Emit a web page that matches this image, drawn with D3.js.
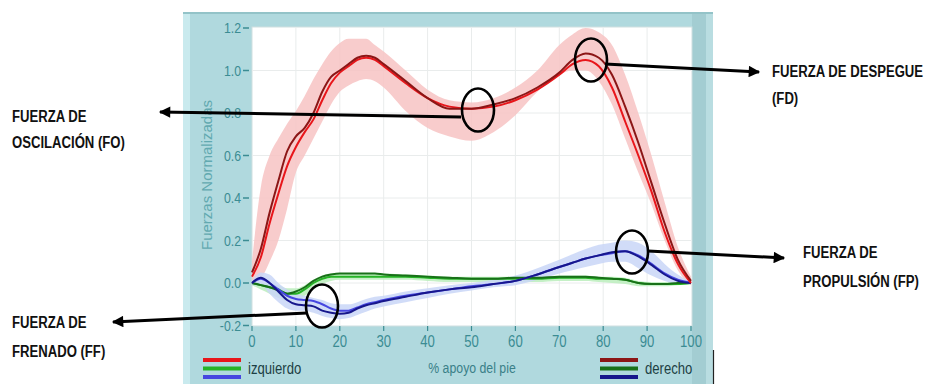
<!DOCTYPE html>
<html>
<head>
<meta charset="utf-8">
<script src="https://cdn.jsdelivr.net/npm/d3@7"></script>
<style>
body { margin: 0; background: #fff; }
text { font-family: 'Liberation Sans', Arial, sans-serif; }
</style>
</head>
<body>
<div id="chart"></div>
<script>
// % apoyo del pie
var pct = [0, 2, 4, 6, 8, 10, 12, 14, 16, 18, 20, 22, 24, 26, 28, 30, 35, 40, 45, 50, 55, 60, 65, 70, 73, 76, 79, 82, 85, 88, 91, 94, 97, 100];

var redIzq = [0.03, 0.12, 0.28, 0.42, 0.55, 0.64, 0.71, 0.77, 0.86, 0.94, 0.99, 1.02, 1.05, 1.06, 1.05, 1.02, 0.94, 0.87, 0.83, 0.82, 0.83, 0.86, 0.91, 0.98, 1.03, 1.05, 1.02, 0.92, 0.76, 0.60, 0.43, 0.24, 0.09, 0.0];
var redDer = [0.05, 0.16, 0.33, 0.48, 0.62, 0.69, 0.73, 0.80, 0.90, 0.97, 1.00, 1.03, 1.06, 1.07, 1.06, 1.03, 0.95, 0.87, 0.82, 0.82, 0.84, 0.87, 0.92, 0.99, 1.05, 1.08, 1.06, 0.98, 0.83, 0.66, 0.47, 0.28, 0.11, 0.01];
var redHi = [0.10, 0.45, 0.60, 0.68, 0.75, 0.81, 0.88, 0.96, 1.03, 1.09, 1.13, 1.15, 1.15, 1.15, 1.12, 1.09, 1.00, 0.91, 0.86, 0.85, 0.87, 0.92, 1.00, 1.12, 1.17, 1.20, 1.18, 1.12, 0.98, 0.80, 0.60, 0.38, 0.17, 0.03];
var redLo = [0.0, 0.02, 0.10, 0.20, 0.35, 0.52, 0.60, 0.68, 0.76, 0.84, 0.90, 0.93, 0.95, 0.96, 0.95, 0.92, 0.81, 0.73, 0.69, 0.67, 0.71, 0.79, 0.90, 0.98, 1.00, 1.00, 0.95, 0.84, 0.68, 0.52, 0.37, 0.20, 0.06, -0.01];

var greenIzq = [0, -0.01, -0.02, -0.03, -0.05, -0.05, -0.03, 0.0, 0.02, 0.03, 0.03, 0.03, 0.03, 0.03, 0.03, 0.03, 0.03, 0.025, 0.02, 0.02, 0.02, 0.02, 0.02, 0.025, 0.025, 0.025, 0.02, 0.02, 0.015, 0.0, -0.005, -0.005, -0.005, 0.0];
var greenDer = [0, -0.01, -0.02, -0.035, -0.05, -0.04, -0.02, 0.01, 0.03, 0.04, 0.045, 0.045, 0.045, 0.045, 0.045, 0.04, 0.035, 0.03, 0.025, 0.02, 0.02, 0.025, 0.025, 0.03, 0.03, 0.03, 0.025, 0.02, 0.015, 0.0, -0.005, -0.005, 0.0, 0.0];
var greenHi = [0.01, 0.0, -0.005, -0.01, -0.025, -0.025, -0.01, 0.015, 0.035, 0.045, 0.045, 0.045, 0.045, 0.045, 0.045, 0.045, 0.04, 0.035, 0.03, 0.03, 0.03, 0.03, 0.03, 0.035, 0.035, 0.035, 0.03, 0.03, 0.025, 0.01, 0.005, 0.005, 0.005, 0.005];
var greenLo = [-0.01, -0.03, -0.05, -0.07, -0.085, -0.08, -0.06, -0.03, -0.005, 0.01, 0.015, 0.015, 0.015, 0.015, 0.015, 0.015, 0.015, 0.01, 0.005, 0.005, 0.005, 0.005, 0.005, 0.01, 0.01, 0.01, 0.005, 0.0, -0.005, -0.015, -0.015, -0.015, -0.01, -0.005];

var blueIzq = [0, 0.02, 0.0, -0.03, -0.06, -0.075, -0.08, -0.085, -0.10, -0.12, -0.13, -0.13, -0.115, -0.10, -0.09, -0.08, -0.06, -0.045, -0.03, -0.015, -0.005, 0.01, 0.04, 0.075, 0.095, 0.115, 0.13, 0.14, 0.15, 0.13, 0.09, 0.045, 0.015, 0.0];
var blueDer = [0, 0.025, 0.0, -0.04, -0.08, -0.10, -0.105, -0.11, -0.13, -0.14, -0.145, -0.14, -0.12, -0.105, -0.095, -0.085, -0.065, -0.045, -0.03, -0.02, -0.005, 0.01, 0.04, 0.075, 0.095, 0.115, 0.13, 0.145, 0.15, 0.125, 0.085, 0.04, 0.01, 0.0];
var blueHi = [0.01, 0.05, 0.04, 0.0, -0.03, -0.05, -0.06, -0.07, -0.08, -0.095, -0.10, -0.10, -0.09, -0.075, -0.065, -0.06, -0.04, -0.025, -0.01, 0.0, 0.015, 0.035, 0.07, 0.11, 0.135, 0.16, 0.18, 0.19, 0.20, 0.19, 0.15, 0.09, 0.04, 0.005];
var blueLo = [-0.01, -0.01, -0.05, -0.09, -0.12, -0.13, -0.13, -0.14, -0.155, -0.165, -0.17, -0.165, -0.15, -0.135, -0.12, -0.11, -0.09, -0.07, -0.05, -0.035, -0.02, -0.01, 0.015, 0.045, 0.06, 0.075, 0.09, 0.10, 0.10, 0.07, 0.035, 0.01, -0.005, -0.005];

var xTicks = [0, 10, 20, 30, 40, 50, 60, 70, 80, 90, 100];
var yTicks = [-0.2, 0.0, 0.2, 0.4, 0.6, 0.8, 1.0, 1.2];

var width = 929, height = 384;
var narrow = 'scale(0.82,1)';
var svg = d3.select('#chart').append('svg')
        .attr('width', width)
        .attr('height', height);
svg.append('rect').attr('width', width).attr('height', height).style('fill', '#fff');

var x = d3.scaleLinear().domain([0, 100]).range([252, 691]);
var y = d3.scaleLinear().domain([-0.2, 1.2]).range([325.5, 28]);

// panel frame
var panel = svg.append('g');
panel.append('rect').attr('x', 183).attr('y', 12).attr('width', 530).attr('height', 372).style('fill', '#b0d9de');
panel.append('rect').attr('x', 183).attr('y', 12).attr('width', 7).attr('height', 372).style('fill', '#c9eaee');
panel.append('rect').attr('x', 183).attr('y', 12).attr('width', 530).attr('height', 2).style('fill', '#93c3c8');
panel.append('rect').attr('x', 692).attr('y', 14).attr('width', 21).attr('height', 370).style('fill', '#a3cdd2');
panel.append('rect').attr('x', 706).attr('y', 14).attr('width', 7).attr('height', 370).style('fill', '#b9dde1');
panel.append('rect').attr('x', 252).attr('y', 27).attr('width', 440).attr('height', 299).style('fill', '#fff').style('stroke', '#cfdfe0');
svg.append('line').attr('x1', 713.5).attr('x2', 713.5).attr('y1', 350).attr('y2', 384).style('stroke', '#222').style('stroke-width', 1.2);

// grid
var grid = svg.append('g');
grid.selectAll('.gx').data(xTicks.slice(1, -1)).enter().append('line')
        .attr('x1', function (d) { return x(d); }).attr('x2', function (d) { return x(d); })
        .attr('y1', 27).attr('y2', 325)
        .style('stroke', '#e9ecec').style('stroke-width', 1);
grid.selectAll('.gy').data(yTicks.slice(1, -1)).enter().append('line')
        .attr('x1', 252).attr('x2', 691)
        .attr('y1', function (d) { return y(d); }).attr('y2', function (d) { return y(d); })
        .style('stroke', '#e9ecec').style('stroke-width', 1);

// bands and lines
function band(hi, lo) {
    return d3.area().curve(d3.curveMonotoneX)
            .x(function (d, i) { return x(pct[i]); })
            .y0(function (d, i) { return y(lo[i]); })
            .y1(function (d, i) { return y(hi[i]); })(pct);
}
var line = d3.line().curve(d3.curveMonotoneX)
        .x(function (d, i) { return x(pct[i]); })
        .y(function (d) { return y(d); });

var plot = svg.append('g');
plot.append('path').attr('d', band(redHi, redLo)).style('fill', '#f7c3c3').style('opacity', 0.85);
plot.append('path').attr('d', band(greenHi, greenLo)).style('fill', '#bfeec0').style('opacity', 0.9);
plot.append('path').attr('d', band(blueHi, blueLo)).style('fill', '#c9d6f7').style('opacity', 0.85);

var series = [
    {v: greenIzq, c: '#26b326'},
    {v: greenDer, c: '#187018'},
    {v: blueIzq, c: '#4646e0'},
    {v: blueDer, c: '#17178c'},
    {v: redIzq, c: '#e8161b'},
    {v: redDer, c: '#8c1616'}
];
plot.selectAll('.s').data(series).enter().append('path')
        .attr('d', function (d) { return line(d.v); })
        .style('fill', 'none')
        .style('stroke', function (d) { return d.c; })
        .style('stroke-width', 2);

// axes
var tickColor = '#3b8c93';
var yAxis = svg.append('g');
yAxis.selectAll('text').data(yTicks).enter().append('text')
        .attr('transform', function (d) { return 'translate(241,' + (y(d) + 5) + ')' + narrow; })
        .attr('text-anchor', 'end')
        .style('font-size', '15px')
        .style('fill', tickColor)
        .text(function (d) { return d.toFixed(1); });
yAxis.selectAll('line').data(yTicks).enter().append('line')
        .attr('x1', 243).attr('x2', 249)
        .attr('y1', function (d) { return y(d); }).attr('y2', function (d) { return y(d); })
        .style('stroke', tickColor).style('stroke-width', 1.5);

var xAxis = svg.append('g');
xAxis.selectAll('line').data(xTicks).enter().append('line')
        .attr('x1', function (d) { return x(d); }).attr('x2', function (d) { return x(d); })
        .attr('y1', 326).attr('y2', 331)
        .style('stroke', tickColor).style('stroke-width', 1.2);
xAxis.selectAll('text').data(xTicks).enter().append('text')
        .attr('transform', function (d) { return 'translate(' + x(d) + ',347)' + narrow; })
        .attr('text-anchor', 'middle')
        .style('font-size', '16px')
        .style('fill', tickColor)
        .text(function (d) { return d; });

svg.append('text')
        .attr('transform', 'translate(212,175)rotate(-90)')
        .attr('text-anchor', 'middle')
        .style('font-size', '15px')
        .style('fill', '#62a9b0')
        .text('Fuerzas Normalizadas');

svg.append('text').attr('transform', 'translate(472,373)' + narrow).attr('text-anchor', 'middle')
        .style('font-size', '15px')
        .style('fill', '#3a8088').text('% apoyo del pie');

// legend
var legendColors = [['#e8161b', '#26b326', '#4646e0'], ['#8c1616', '#187018', '#17178c']];
var legendNames = ['izquierdo', 'derecho'];
var legendX = [203, 600];
legendNames.forEach(function (name, k) {
    var g = svg.append('g');
    g.selectAll('line').data(legendColors[k]).enter().append('line')
            .attr('x1', legendX[k]).attr('x2', legendX[k] + 38)
            .attr('y1', function (d, i) { return 360 + i * 8.5; })
            .attr('y2', function (d, i) { return 360 + i * 8.5; })
            .style('stroke', function (d) { return d; }).style('stroke-width', 4);
    g.append('text').attr('transform', 'translate(' + (legendX[k] + 45) + ',374)' + narrow)
            .style('font-size', '16px')
            .style('fill', '#1d3f44').text(name);
});

// annotations
var defs = svg.append('defs');
defs.append('marker').attr('id', 'head')
        .attr('viewBox', '0 0 10 10').attr('refX', 9).attr('refY', 5)
        .attr('markerWidth', 4.5).attr('markerHeight', 3.8).attr('orient', 'auto')
        .append('path').attr('d', 'M0,0L10,5L0,10Z').style('fill', '#000');

var notes = [
    {cx: 478, cy: 110, line: [461, 117, 160, 112], lines: ['FUERZA DE', 'OSCILACIÓN (FO)'], tx: 12, ty: [122, 148]},
    {cx: 591, cy: 60, line: [605, 64, 759, 72], lines: ['FUERZA DE DESPEGUE', '(FD)'], tx: 772, ty: [77, 104]},
    {cx: 322, cy: 306, line: [307, 313, 113, 322], lines: ['FUERZA DE', 'FRENADO (FF)'], tx: 12, ty: [328, 357]},
    {cx: 632, cy: 252, line: [648, 251, 784, 258], lines: ['FUERZA DE', 'PROPULSIÓN (FP)'], tx: 803, ty: [258, 287]}
];
var ann = svg.append('g');
notes.forEach(function (n) {
    ann.append('line')
            .attr('x1', n.line[0]).attr('y1', n.line[1]).attr('x2', n.line[2]).attr('y2', n.line[3])
            .style('stroke', '#000').style('stroke-width', 3).attr('marker-end', 'url(#head)');
    ann.append('ellipse').attr('cx', n.cx).attr('cy', n.cy).attr('rx', 16).attr('ry', 21.5)
            .style('fill', 'none').style('stroke', '#000').style('stroke-width', 2.6);
    n.lines.forEach(function (t, i) {
        ann.append('text').attr('transform', 'translate(' + n.tx + ',' + n.ty[i] + ')' + narrow)
                .style('font-weight', 'bold')
                .style('font-size', '16px').style('fill', '#111')
                .text(t);
    });
});
</script>
</body>
</html>
